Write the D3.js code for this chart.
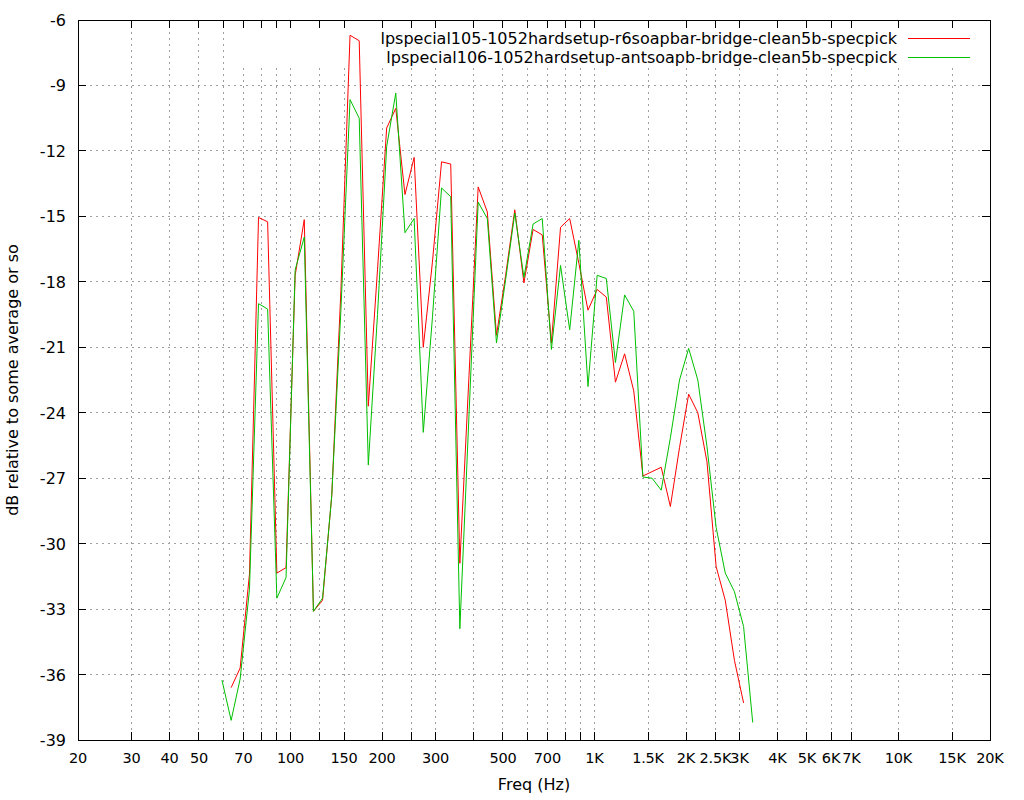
<!DOCTYPE html>
<html>
<head>
<meta charset="utf-8">
<script src="https://cdn.jsdelivr.net/npm/d3@7"></script>
<style>
  html, body { margin: 0; padding: 0; background: #fff; }
  svg text { font-family: "DejaVu Sans", sans-serif; font-size: 16px; fill: #000; }
  svg text.xtick { font-size: 14.5px; letter-spacing: -0.2px; }
</style>
</head>
<body>
<svg id="chart" width="1024" height="800"></svg>
<script>
// ---- data ----
const freqs = [59.5, 63.8, 68.3, 73.3, 78.5, 84.1, 90.2, 96.7, 103.6, 111.0,
  119.0, 127.5, 136.7, 146.5, 157.0, 168.3, 180.3, 193.3, 207.2, 222.0,
  238.0, 255.1, 273.4, 293.0, 314.0, 336.6, 360.7, 386.6, 414.4, 444.1,
  476.0, 510.2, 546.8, 586.0, 628.1, 673.2, 721.5, 773.3, 828.8, 888.3,
  952.0, 1020.4, 1093.6, 1172.1, 1256.2, 1346.4, 1443.0, 1546.6, 1657.6, 1776.6,
  1904.1, 2040.8, 2187.3, 2344.3, 2512.5, 2692.9, 2886.2, 3093.4, 3315.4];

const redValues = [null, -36.6, -35.7, -31.4, -15.05, -15.25, -31.35, -31.1, -17.7, -15.15,
  -33.1, -32.6, -27.8, -18.4, -6.7, -6.95, -23.7, -17.45, -10.95, -10.05,
  -14.0, -12.3, -21.0, -17.1, -12.5, -12.6, -30.9, -22.3, -13.65, -14.8,
  -20.45, -17.7, -14.7, -18.05, -15.6, -15.85, -20.8, -15.5, -15.1, -17.15,
  -19.3, -18.35, -18.7, -22.6, -21.3, -23.0, -26.9, -26.7, -26.5, -28.3,
  -25.6, -23.15, -24.0, -26.25, -31.05, -32.6, -35.35, -37.3, null];

const greenValues = [-36.25, -38.1, -36.2, -32.1, -19.0, -19.25, -32.5, -31.55, -17.45, -15.95,
  -33.1, -32.5, -27.8, -19.3, -9.65, -10.5, -26.4, -19.5, -11.8, -9.35,
  -15.75, -15.1, -24.9, -19.65, -13.7, -14.1, -33.9, -24.1, -14.35, -15.1,
  -20.8, -17.9, -14.85, -17.8, -15.35, -15.1, -21.1, -17.25, -20.2, -16.1,
  -22.8, -17.7, -17.85, -21.7, -18.6, -19.35, -26.95, -27.0, -27.55, -25.15,
  -22.5, -21.05, -22.5, -25.55, -29.25, -31.35, -32.2, -33.8, -38.2];

const seriesNames = [
  "lpspecial105-1052hardsetup-r6soapbar-bridge-clean5b-specpick",
  "lpspecial106-1052hardsetup-antsoapb-bridge-clean5b-specpick"
];
const seriesColors = ["#ff0000", "#00c000"];

const xLabelTicks = [20, 30, 40, 50, 70, 100, 150, 200, 300, 500, 700, 1000, 1500,
  2000, 2500, 3000, 4000, 5000, 6000, 7000, 10000, 15000, 20000];
const xLabelTexts = ["20", "30", "40", "50", "70", "100", "150", "200", "300", "500", "700", "1K", "1.5K",
  "2K", "2.5K", "3K", "4K", "5K", "6K", "7K", "10K", "15K", "20K"];
const xMinorTicks = [60, 80, 90, 125, 250, 400, 600, 800, 900];
const yTicks = [-39, -36, -33, -30, -27, -24, -21, -18, -15, -12, -9, -6];

const xTitle = "Freq (Hz)";
const yTitle = "dB relative to some average or so";

// ---- layout ----
const L = 78, R = 990, T = 20, B = 740;
const svg = d3.select("#chart");
const x = d3.scaleLog().domain([20, 20000]).range([L, R]);
const y = d3.scaleLinear().domain([-39, -6]).range([B, T]);

const allXTicks = xLabelTicks.concat(xMinorTicks).sort((a, b) => a - b);
const gridColor = "#a0a0a0";

// grid
const grid = svg.append("g");
grid.selectAll("line.gx").data(allXTicks.filter(d => d > 20 && d < 20000)).enter()
  .append("line")
  .attr("x1", d => x(d)).attr("x2", d => x(d))
  .attr("y1", T).attr("y2", B)
  .attr("stroke", gridColor).attr("stroke-width", 1)
  .attr("stroke-dasharray", "2,4").attr("shape-rendering", "crispEdges");
grid.selectAll("line.gy").data(yTicks.filter(d => d > -39 && d < -6)).enter()
  .append("line")
  .attr("x1", L).attr("x2", R)
  .attr("y1", d => y(d)).attr("y2", d => y(d))
  .attr("stroke", gridColor).attr("stroke-width", 1)
  .attr("stroke-dasharray", "2,4").attr("shape-rendering", "crispEdges");

// key background (blanks the grid under the legend)
svg.append("rect").attr("x", 232).attr("y", T + 1).attr("width", R - 1 - 232).attr("height", 47)
  .attr("fill", "#fff");

// border
svg.append("rect").attr("x", L).attr("y", T).attr("width", R - L).attr("height", B - T)
  .attr("fill", "none").attr("stroke", "#000").attr("stroke-width", 1)
  .attr("shape-rendering", "crispEdges");

// ticks
const tickLen = 8;
const ticks = svg.append("g").attr("stroke", "#000").attr("shape-rendering", "crispEdges");
allXTicks.forEach(d => {
  ticks.append("line").attr("x1", x(d)).attr("x2", x(d)).attr("y1", B).attr("y2", B - tickLen);
  ticks.append("line").attr("x1", x(d)).attr("x2", x(d)).attr("y1", T).attr("y2", T + tickLen);
});
yTicks.forEach(d => {
  ticks.append("line").attr("x1", L).attr("x2", L + tickLen).attr("y1", y(d)).attr("y2", y(d));
  ticks.append("line").attr("x1", R).attr("x2", R - tickLen).attr("y1", y(d)).attr("y2", y(d));
});

// tick labels
svg.append("g").selectAll("text").data(xLabelTicks).enter().append("text")
  .attr("class", "xtick")
  .attr("x", d => x(d)).attr("y", 763).attr("text-anchor", "middle")
  .text((d, i) => xLabelTexts[i]);
svg.append("g").selectAll("text").data(yTicks).enter().append("text")
  .attr("x", 66).attr("y", d => y(d) + 6).attr("text-anchor", "end")
  .text(d => String(d));

// axis titles
svg.append("text").attr("x", (L + R) / 2).attr("y", 790).attr("text-anchor", "middle").text(xTitle);
svg.append("text").attr("transform", `translate(18,${(T + B) / 2}) rotate(-90)`)
  .attr("text-anchor", "middle").text(yTitle);

// data lines
const rows = freqs.map((f, i) => ({ f, r: redValues[i], g: greenValues[i] }));
const mk = key => d3.line().defined(d => d[key] !== null).x(d => x(d.f)).y(d => y(d[key]));
svg.append("path").datum(rows).attr("d", mk("r"))
  .attr("fill", "none").attr("stroke", seriesColors[0]).attr("stroke-width", 1);
svg.append("path").datum(rows).attr("d", mk("g"))
  .attr("fill", "none").attr("stroke", seriesColors[1]).attr("stroke-width", 1);

// legend
seriesNames.forEach((name, i) => {
  const cy = 38.5 + i * 19;
  svg.append("text").attr("x", 897).attr("y", cy + 5.5).attr("text-anchor", "end").text(name);
  svg.append("line").attr("x1", 908).attr("x2", 970).attr("y1", cy).attr("y2", cy)
    .attr("stroke", seriesColors[i]).attr("stroke-width", 1).attr("shape-rendering", "crispEdges");
});
</script>
</body>
</html>
